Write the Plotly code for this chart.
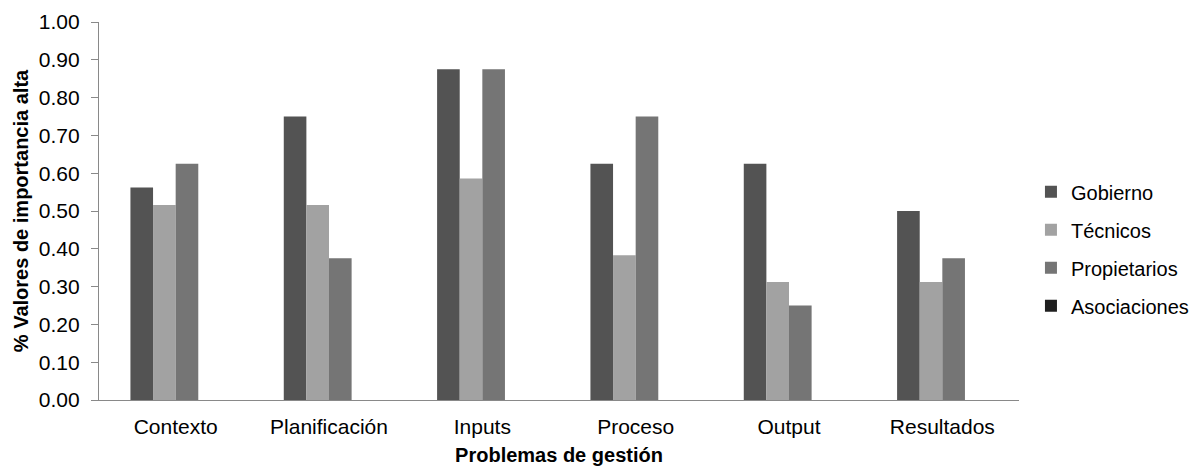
import plotly.graph_objects as go

categories = ["Contexto", "Planificación", "Inputs", "Proceso", "Output", "Resultados"]
series_names = ["Gobierno", "Técnicos", "Propietarios", "Asociaciones"]
gobierno = [0.5625, 0.75, 0.875, 0.625, 0.625, 0.50]
tecnicos = [0.5156, 0.5156, 0.5859, 0.3828, 0.3125, 0.3125]
propietarios = [0.625, 0.375, 0.875, 0.75, 0.25, 0.375]
asociaciones = [0, 0, 0, 0, 0, 0]
colors = ["#535353", "#a2a2a2", "#757575", "#1f1f1f"]

y_ticks = [i / 10 for i in range(11)]

fig = go.Figure()
for name, vals, col in zip(series_names, [gobierno, tecnicos, propietarios, asociaciones], colors):
    fig.add_trace(go.Bar(
        x=categories, y=vals, name=name, legendgroup=name,
        marker=dict(color=col, line=dict(width=0)),
    ))

font_family = "Liberation Sans, Arial, sans-serif"
fig.update_layout(
    width=1193, height=460,
    margin=dict(l=91, r=182, t=14, b=68, autoexpand=False),
    paper_bgcolor="white", plot_bgcolor="white",
    barmode="group", bargap=0.41, bargroupgap=0,
    font=dict(family=font_family, size=21, color="#000000"),
    legend=dict(x=1.013, xanchor="left", y=0.40, yanchor="middle",
                tracegroupgap=9, font=dict(size=20), itemwidth=30),
    showlegend=True,
)
fig.update_xaxes(
    automargin=False,
    showline=True, linecolor="#898989", linewidth=1.3,
    showgrid=False, ticks="", tickfont=dict(size=21), ticklabelstandoff=8,
    title=dict(text="<b>Problemas de gestión</b>", font=dict(size=20), standoff=10),
)
fig.update_yaxes(
    automargin=False,
    range=[0, 1], tickvals=y_ticks, tickformat=".2f",
    showline=True, linecolor="#898989", linewidth=1.3,
    ticks="outside", ticklen=7, tickcolor="#898989", ticklabelstandoff=7,
    showgrid=False, zeroline=False, tickfont=dict(size=21),
    title=dict(text="<b>% Valores de importancia alta</b>", font=dict(size=20), standoff=4),
)
fig.write_html("out.html")
